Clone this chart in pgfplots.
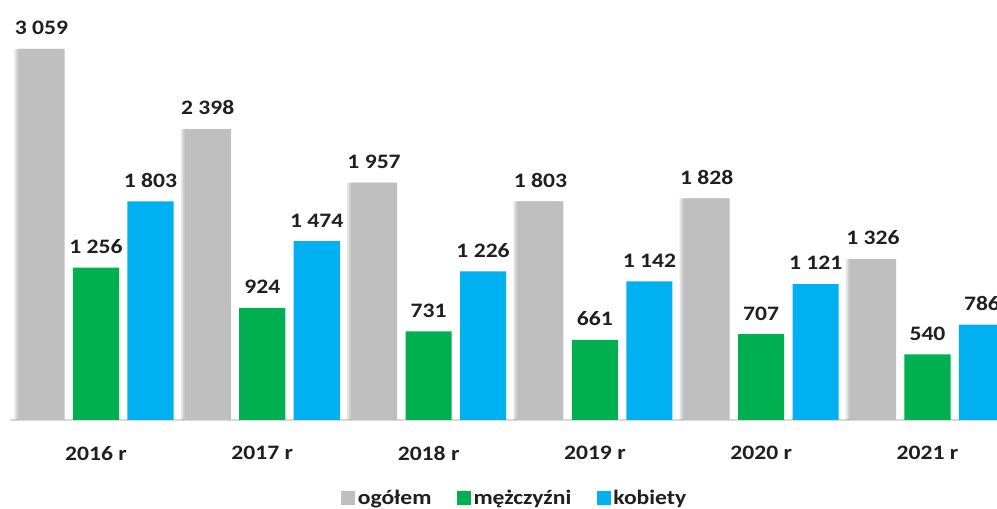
\documentclass[border=0pt]{standalone}
\usepackage{fontspec}
\setmainfont{Carlito}[FakeStretch=1.15]
\usepackage{pgfplots}
\pgfplotsset{compat=1.18}

\definecolor{cTotal}{HTML}{BFBFBF}
\definecolor{cMen}{HTML}{00B050}
\definecolor{cWomen}{HTML}{00B0F0}
\definecolor{cText}{HTML}{1F1F1F}
\definecolor{cBase}{HTML}{D9D9D9}

\pgfplotstableread{
x total men women
0 3059 1256 1803
1 2398 924 1474
2 1957 731 1226
3 1803 661 1142
4 1828 707 1121
5 1326 540 786
}\datatable

\begin{document}
\begin{tikzpicture}[font=\fontsize{15.4pt}{18pt}\selectfont\bfseries]
\useasboundingbox (0,0) rectangle (747.75pt,381.75pt);
\clip (0,0) rectangle (747.75pt,381.75pt);
\begin{axis}[
    at={(7.5pt,66.75pt)}, anchor=south west,
    scale only axis,
    width=740.25pt, height=300.2pt,
    ybar, bar width=0.277,
    xmin=-0.517, xmax=5.418,
    ymin=0, ymax=3300,
    axis y line=none,
    axis x line*=bottom,
    x axis line style={draw=cBase, line width=1.5pt},
    xtick={0,1,2,3,4,5},
    xticklabels={2016 r,2017 r,2018 r,2019 r,2020 r,2021 r},
    major tick length=0pt,
    xticklabel style={anchor=center, yshift=-25pt, text=cText},
    legend style={at={(0.5117,-0.1944)}, anchor=center, draw=none,
        legend columns=3, text=cText, inner sep=1pt,
        /tikz/every even column/.append style={column sep=17pt}},
    legend image code/.code={\fill[#1] (0pt,-5.25pt) rectangle (10.5pt,5.25pt);},
    every node near coord/.append style={text=cText, anchor=south, yshift=7pt,
        /pgf/number format/.cd, 1000 sep={\ }, assume math mode=true},
]
% soft shadow left of the grey bars
\addplot[fill=black, fill opacity=0.10, draw=none, bar shift=-0.3517, forget plot]
    table[x=x, y=total] {\datatable};
\addplot[fill=black, fill opacity=0.10, draw=none, bar shift=-0.3397, forget plot]
    table[x=x, y=total] {\datatable};
\addplot[fill=cTotal, draw=none, bar shift=-0.3277, nodes near coords]
    table[x=x, y=total] {\datatable};
\addplot[fill=cMen, draw=none, bar shift=0, nodes near coords]
    table[x=x, y=men] {\datatable};
\addplot[fill=cWomen, draw=none, bar shift=0.3277, nodes near coords]
    table[x=x, y=women] {\datatable};
\legend{ogółem,mężczyźni,kobiety}
\end{axis}
\end{tikzpicture}
\end{document}
